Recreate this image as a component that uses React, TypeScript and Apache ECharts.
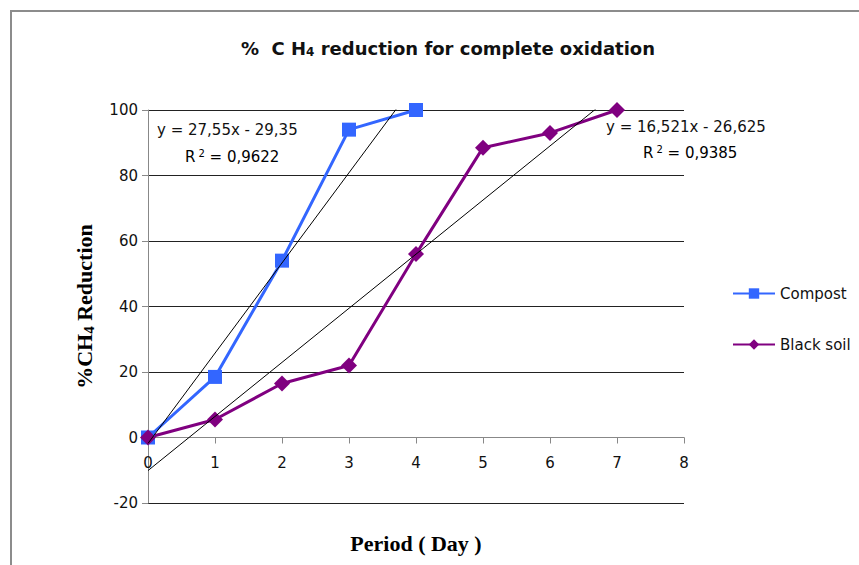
import React, { useEffect, useRef } from "react";
import * as echarts from "echarts";

const days = [0, 1, 2, 3, 4, 5, 6, 7];
const compost = [0, 18.5, 54, 94, 100];
const blackSoil = [0, 5.5, 16.5, 22, 56, 88.5, 93, 100];
// Excel trendline coefficients (x = point index starting at 1)
const compostTrend = [27.55, -29.35];
const blackSoilTrend = [16.521, -26.625];
const compostEq = ["y = 27,55x - 29,35", "0,9622"];
const blackSoilEq = ["y = 16,521x - 26,625", "0,9385"];
const seriesNames = ["Compost", "Black soil"];

const FONT = "DejaVu Sans";
const SERIF = "Liberation Serif";

function trendPoints(coef: number[], n: number) {
  const f = (d: number) => coef[0] * (d + 1) + coef[1];
  return [
    [days[0], f(days[0])],
    [days[n - 1], f(days[n - 1])],
  ];
}

export default function App() {
  const ref = useRef<HTMLDivElement>(null);
  useEffect(() => {
    if (!ref.current) return;
    const chart = echarts.init(ref.current, undefined, { renderer: "svg" });
    const eqText = (x: number, y: number, s: string) => ({
      type: "text",
      x,
      y,
      style: { text: s, font: `15px "${FONT}"`, fill: "#111", textVerticalAlign: "middle" },
    });
    const r2Text = (x: number, y: number, v: string) => ({
      type: "text",
      x,
      y,
      style: {
        text: `{a|R}{s|2}{a| = ${v}}`,
        textVerticalAlign: "middle",
        rich: {
          a: { fontFamily: FONT, fontSize: 15, color: "#111" },
          s: { fontFamily: FONT, fontSize: 10, color: "#111", padding: [0, 0, 8, 3] },
        },
      },
    });
    chart.setOption({
      animation: false,
      backgroundColor: "#fff",
      title: {
        text: "{a|%  C H}{s|4}{a| reduction for complete oxidation}",
        left: 443,
        textAlign: "center",
        top: 34,
        textStyle: {
          rich: {
            a: { fontFamily: FONT, fontSize: 18, fontWeight: "bold", color: "#111" },
            s: { fontFamily: FONT, fontSize: 12, fontWeight: "bold", color: "#111", padding: [7, 0, 0, 0] },
          },
        },
      },
      graphic: [
        {
          type: "polyline",
          shape: { points: [[11, 565], [11, 11], [859, 11]] },
          style: { stroke: "#8c8c8c", lineWidth: 2, fill: "none" },
          silent: true,
        },
        eqText(157, 130, compostEq[0]),
        r2Text(185, 157, compostEq[1]),
        eqText(606, 127, blackSoilEq[0]),
        r2Text(643, 153, blackSoilEq[1]),
      ],
      legend: {
        orient: "vertical",
        left: 732,
        top: 286,
        padding: 0,
        itemGap: 36,
        itemWidth: 42,
        itemHeight: 13,
        data: seriesNames,
        textStyle: { fontFamily: FONT, fontSize: 15, color: "#111" },
      },
      grid: { left: 148, right: 175, top: 110, bottom: 62, outerBoundsMode: "none", containLabel: false },
      xAxis: {
        type: "value",
        position: "bottom",
        offset: -65.5,
        min: 0,
        max: 8,
        interval: 1,
        name: "Period ( Day )",
        nameLocation: "middle",
        nameGap: 95,
        nameTextStyle: { fontFamily: SERIF, fontSize: 22, fontWeight: "bold", color: "#000" },
        axisLine: { onZero: false, lineStyle: { color: "#888", width: 1 } },
        axisTick: { show: true, length: 6, lineStyle: { color: "#888" } },
        axisLabel: { margin: 18, fontFamily: FONT, fontSize: 15, color: "#111" },
        splitLine: { show: false },
      },
      yAxis: {
        type: "value",
        min: -20,
        max: 100,
        interval: 20,
        name: "{a|%CH}{s|4}{a| Reduction}",
        nameLocation: "middle",
        nameGap: 52,
        nameTextStyle: {
          rich: {
            a: { fontFamily: SERIF, fontSize: 22, fontWeight: "bold", color: "#000" },
            s: { fontFamily: SERIF, fontSize: 15, fontWeight: "bold", color: "#000", padding: [9, 0, 0, 0] },
          },
        },
        axisLine: { show: true, onZero: false, lineStyle: { color: "#888", width: 1 } },
        axisTick: { show: true, length: 6, lineStyle: { color: "#888" } },
        axisLabel: { margin: 10, fontFamily: FONT, fontSize: 15, color: "#111" },
        splitLine: { show: true, lineStyle: { color: "#222", width: 1 } },
      },
      series: [
        {
          name: seriesNames[0],
          type: "line",
          data: compost.map((v, i) => [days[i], v]),
          symbol: "rect",
          symbolSize: 14,
          itemStyle: { color: "#3366ff" },
          lineStyle: { color: "#3366ff", width: 3 },
          z: 3,
        },
        {
          name: seriesNames[1],
          type: "line",
          data: blackSoil.map((v, i) => [days[i], v]),
          symbol: "diamond",
          symbolSize: 16,
          itemStyle: { color: "#800080" },
          lineStyle: { color: "#800080", width: 3 },
          z: 3,
        },
        {
          name: "Compost trend",
          type: "line",
          data: trendPoints(compostTrend, compost.length),
          showSymbol: false,
          symbol: "none",
          clip: true,
          silent: true,
          lineStyle: { color: "#000", width: 1 },
          z: 4,
        },
        {
          name: "Black soil trend",
          type: "line",
          data: trendPoints(blackSoilTrend, blackSoil.length),
          showSymbol: false,
          symbol: "none",
          clip: true,
          silent: true,
          lineStyle: { color: "#000", width: 1 },
          z: 4,
        },
      ],
    });
    return () => chart.dispose();
  }, []);
  return (
    <div
      ref={ref}
      style={{ position: "fixed", left: 0, top: 0, width: 859, height: 565, background: "#fff" }}
    />
  );
}
